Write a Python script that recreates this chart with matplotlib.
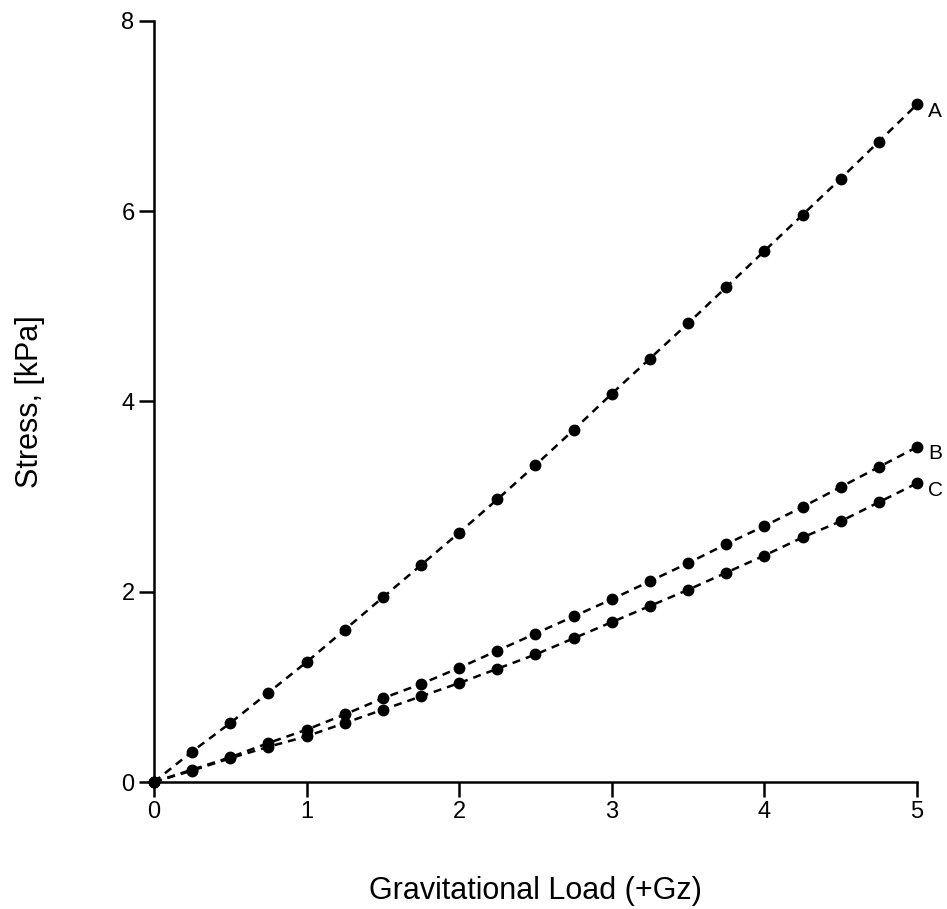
import matplotlib
matplotlib.use('Agg')
import matplotlib.pyplot as plt

# data
load_g = [0, 0.25, 0.5, 0.75, 1, 1.25, 1.5, 1.75, 2, 2.25, 2.5,
          2.75, 3, 3.25, 3.5, 3.75, 4, 4.25, 4.5, 4.75, 5]
stress_a = [0, 0.32, 0.62, 0.94, 1.26, 1.60, 1.94, 2.28, 2.62, 2.97, 3.33,
            3.70, 4.08, 4.45, 4.82, 5.20, 5.58, 5.96, 6.34, 6.73, 7.12]
stress_b = [0, 0.13, 0.26, 0.41, 0.55, 0.71, 0.88, 1.03, 1.20, 1.38, 1.56,
            1.74, 1.92, 2.11, 2.30, 2.50, 2.69, 2.89, 3.10, 3.31, 3.52]
stress_c = [0, 0.12, 0.25, 0.37, 0.48, 0.62, 0.76, 0.90, 1.04, 1.19, 1.34,
            1.51, 1.68, 1.85, 2.02, 2.20, 2.38, 2.57, 2.74, 2.94, 3.14]
series_labels = ['A', 'B', 'C']
x_ticks = [0, 1, 2, 3, 4, 5]
y_ticks = [0, 2, 4, 6, 8]

plt.rcParams['font.family'] = ['Liberation Sans', 'DejaVu Sans']

fig = plt.figure(figsize=(9.47, 9.09), dpi=100)
ax = fig.add_axes([0.1626, 0.1397, 0.8057, 0.8375])

for ys, lab in zip([stress_a, stress_b, stress_c], series_labels):
    line, = ax.plot(load_g, ys, color='black', linestyle='--', linewidth=1.8,
                    marker='o', markersize=7.5, clip_on=False)
    line.set_dashes((3.2, 2.4))
    ax.annotate(lab, xy=(load_g[-1], ys[-1]), xytext=(8, -5),
                textcoords='offset points', fontsize=15, ha='left', va='center')

ax.set_xlim(0, 5)
ax.set_ylim(0, 8)
ax.set_xticks(x_ticks)
ax.set_yticks(y_ticks)

for side in ['top', 'right']:
    ax.spines[side].set_visible(False)
for side in ['left', 'bottom']:
    ax.spines[side].set_linewidth(1.8)

ax.tick_params(axis='both', direction='out', length=11, width=1.8,
               labelsize=17, pad=3)

ax.set_xlabel('Gravitational Load (+Gz)', fontsize=22, labelpad=38)
ax.set_ylabel('Stress, [kPa]', fontsize=22, labelpad=55)

fig.savefig('out.png', dpi=100)
